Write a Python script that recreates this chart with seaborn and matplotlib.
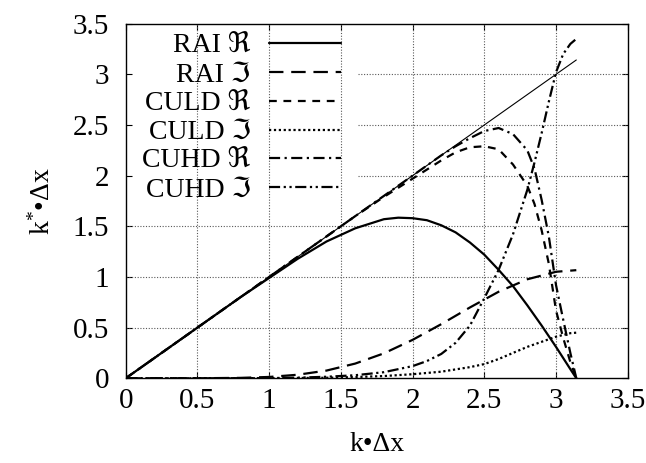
import matplotlib
matplotlib.use("Agg")
import matplotlib.pyplot as plt
import matplotlib.ticker as mticker
import seaborn as sns

# ---------------- data ----------------
exact_x = [0.0, 3.1416]
exact_y = [0.0, 3.1416]

rai_re_x = [0, 0.2, 0.4, 0.6, 0.8, 1.0, 1.2, 1.4, 1.6, 1.8, 1.9, 2.0, 2.1, 2.2, 2.3,
            2.4, 2.5, 2.6, 2.7, 2.8, 2.9, 3.0, 3.1, 3.1416]
rai_re_y = [0, 0.2, 0.4, 0.6, 0.8, 0.99, 1.18, 1.35, 1.48, 1.57, 1.585, 1.58, 1.56, 1.51, 1.44,
            1.34, 1.22, 1.07, 0.91, 0.72, 0.52, 0.31, 0.09, 0]

rai_im_x = [0, 0.5, 0.8, 1.0, 1.2, 1.4, 1.6, 1.8, 2.0, 2.2, 2.4, 2.6, 2.8, 3.0, 3.1416]
rai_im_y = [0, 0.0002, 0.004, 0.013, 0.035, 0.076, 0.145, 0.246, 0.379, 0.534, 0.699,
            0.854, 0.977, 1.051, 1.067]

culd_re_x = [0, 0.4, 0.8, 1.2, 1.6, 1.8, 2.0, 2.2, 2.3, 2.4, 2.5, 2.6, 2.7, 2.8, 2.85,
             2.9, 2.95, 3.0, 3.05, 3.1, 3.1416]
culd_re_y = [0, 0.4, 0.8, 1.2, 1.6, 1.79, 1.97, 2.15, 2.23, 2.28, 2.29, 2.26, 2.11, 1.9, 1.72,
             1.46, 1.13, 0.67, 0.4, 0.16, 0]

culd_im_x = [0, 1.0, 1.4, 1.6, 1.8, 2.0, 2.2, 2.4, 2.5, 2.6, 2.7, 2.8, 2.9, 3.0, 3.1, 3.1416]
culd_im_y = [0, 0.0, 0.005, 0.012, 0.022, 0.04, 0.065, 0.11, 0.14, 0.19, 0.25, 0.31, 0.36,
             0.41, 0.445, 0.45]

cuhd_re_x = [0, 0.4, 0.8, 1.2, 1.6, 2.0, 2.2, 2.3, 2.4, 2.5, 2.6, 2.7, 2.8, 2.85, 2.9,
             2.95, 3.0, 3.05, 3.1, 3.1416]
cuhd_re_y = [0, 0.4, 0.8, 1.2, 1.6, 2.0, 2.2, 2.29, 2.37, 2.44, 2.47, 2.41, 2.25, 2.07, 1.76,
             1.4, 0.92, 0.58, 0.25, 0]

cuhd_im_x = [0, 0.5, 1.0, 1.2, 1.4, 1.6, 1.8, 2.0, 2.1, 2.2, 2.3, 2.4, 2.5, 2.6, 2.7, 2.8,
             2.85, 2.9, 2.95, 3.0, 3.05, 3.1, 3.1416]
cuhd_im_y = [0, 0, 0.002, 0.006, 0.015, 0.03, 0.06, 0.12, 0.17, 0.24, 0.35, 0.52, 0.79, 1.07,
             1.42, 1.86, 2.13, 2.42, 2.73, 3.02, 3.2, 3.3, 3.35]

labels = ["RAI \u211c", "RAI \u2111", "CULD \u211c", "CULD \u2111", "CUHD \u211c", "CUHD \u2111"]
xticks = [0, 0.5, 1, 1.5, 2, 2.5, 3, 3.5]
yticks = [0, 0.5, 1, 1.5, 2, 2.5, 3, 3.5]

# ---------------- style ----------------
sns.set_theme(style="white")
plt.rcParams["font.family"] = ["Liberation Serif", "DejaVu Serif", "DejaVu Sans"]
plt.rcParams["mathtext.fontset"] = "custom"
plt.rcParams["mathtext.rm"] = "Liberation Serif"
plt.rcParams["mathtext.it"] = "Liberation Serif"
plt.rcParams["text.color"] = "black"
plt.rcParams["axes.labelcolor"] = "black"
FS_TICK = 21
FS_LEG = 20
FS_LAB = 20

fig = plt.figure(figsize=(6.46, 4.63), dpi=100)
ax = fig.add_axes([0.1946, 0.183, 0.7771, 0.7659])

series = [
    (rai_re_x, rai_re_y, "-"),
    (rai_im_x, rai_im_y, (0, (6.5, 3.5))),
    (culd_re_x, culd_re_y, (0, (3.5, 3))),
    (culd_im_x, culd_im_y, (0, (1, 1.2))),
    (cuhd_re_x, cuhd_re_y, (0, (5, 2, 1, 2))),
    (cuhd_im_x, cuhd_im_y, (0, (5, 1.6, 1, 1.6, 1, 1.6))),
]

sns.lineplot(x=exact_x, y=exact_y, ax=ax, color="black", lw=0.8, label="_nolegend_",
             estimator=None, sort=False, zorder=3)
for (xs, ys, ls), lab in zip(series, labels):
    sns.lineplot(x=xs, y=ys, ax=ax, color="black", lw=1.6, linestyle=ls, label=lab,
                 estimator=None, sort=False, zorder=4)

ax.set_xlim(0, 3.5)
ax.set_ylim(0, 3.5)
ax.set_xticks(xticks)
ax.set_yticks(yticks)
fmt = mticker.FuncFormatter(lambda v, p: "%g" % v)
ax.xaxis.set_major_formatter(fmt)
ax.yaxis.set_major_formatter(fmt)
ax.tick_params(axis="both", direction="in", length=4.5, width=0.8, colors="black",
               labelsize=FS_TICK, top=True, right=True, bottom=True, left=True)
ax.tick_params(axis="x", pad=7)
ax.tick_params(axis="y", pad=12)
for sp in ax.spines.values():
    sp.set_color("black")
    sp.set_linewidth(1.0)

grid_kw = dict(color="0.35", lw=0.8, linestyle=(0, (1, 1.5)), zorder=1)
for xv in xticks[1:-1]:
    ax.axvline(xv, **grid_kw)
for yv in yticks[1:-1]:
    start = 1.62 / 3.5 if yv >= 2 else 0.0
    ax.axhline(yv, xmin=start, xmax=1, **grid_kw)

ax.set_xlabel("k\u2022\u0394x", fontsize=FS_LAB, labelpad=13, color="black")
ax.set_ylabel("k$^{*}$\u2022\u0394x", fontsize=FS_LAB, labelpad=12, color="black")

leg = ax.legend(loc="upper right", bbox_to_anchor=((341 - 125.7) / 502, (378.3 - 33.5) / 354.6),
                frameon=False, markerfirst=False, fontsize=FS_LEG, handlelength=2.6,
                handletextpad=0.65, labelspacing=0.12, borderpad=0, borderaxespad=0,
                labelcolor="black")

fig.savefig("out.png", dpi=100)
